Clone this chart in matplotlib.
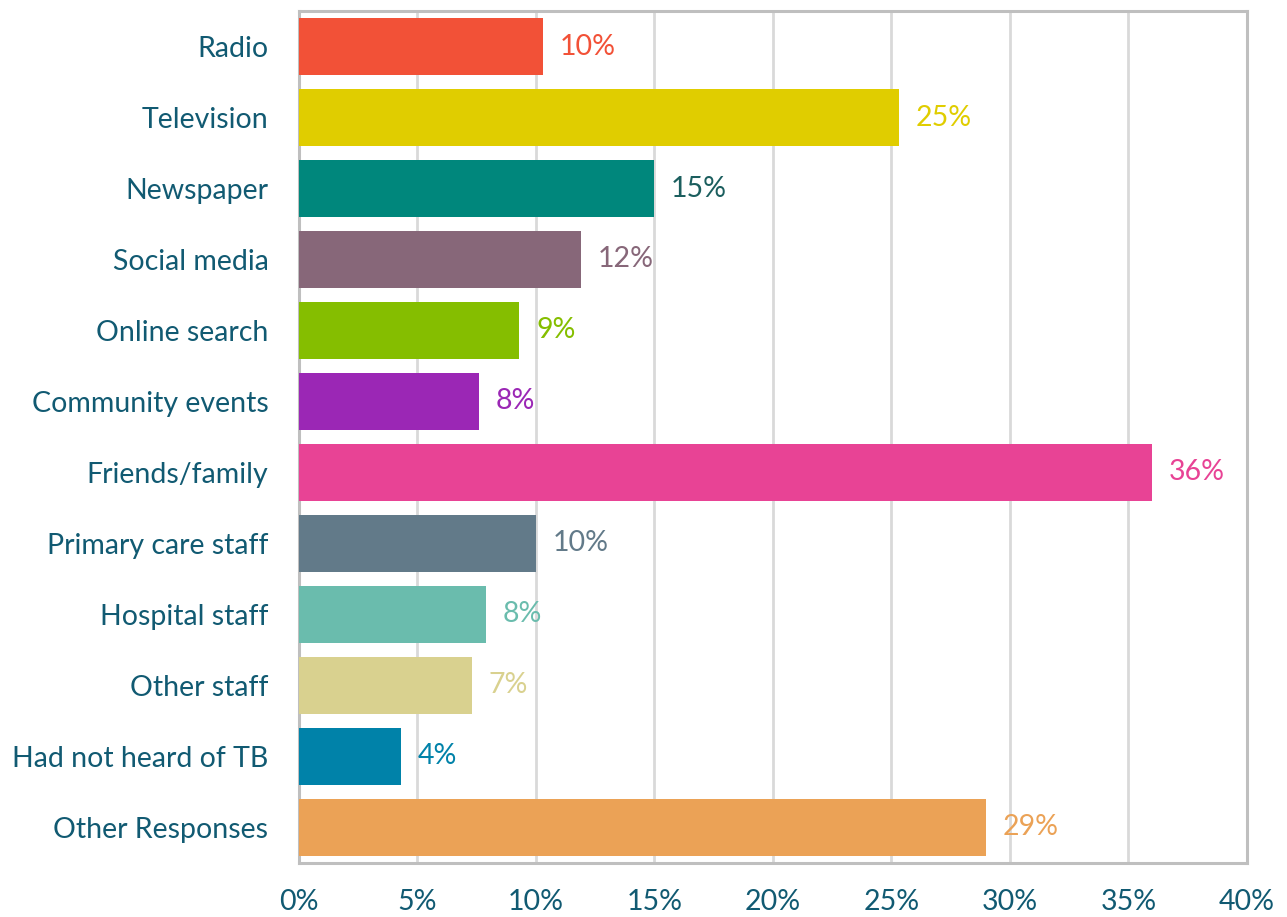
import matplotlib.pyplot as plt

categories = [
    "Radio", "Television", "Newspaper", "Social media", "Online search",
    "Community events", "Friends/family", "Primary care staff",
    "Hospital staff", "Other staff", "Had not heard of TB", "Other Responses",
]
shares = [10.3, 25.3, 15.0, 11.9, 9.3, 7.6, 36.0, 10.0, 7.9, 7.3, 4.3, 29.0]
bar_colors = [
    "#F25137", "#E0CD00", "#00877C", "#876779", "#85BE00", "#9B27B5",
    "#E84395", "#627A89", "#6ABCAD", "#D9D18F", "#0082A9", "#EBA256",
]
label_colors = list(bar_colors)
label_colors[2] = "#1B5E5E"
x_ticks = [0, 5, 10, 15, 20, 25, 30, 35, 40]

TEXT = "#115A72"
FS = 20.5
plt.rcParams["font.family"] = ["Lato", "DejaVu Sans"]

fig = plt.figure(figsize=(12.87, 9.17), dpi=100)
ax = fig.add_axes([0.2323, 0.0589, 0.7366, 0.9291])

ypos = range(len(categories))
ax.barh(ypos, shares, height=0.79, color=bar_colors, zorder=3)
for y, v, c in zip(ypos, shares, label_colors):
    ax.annotate(f"{v:.0f}%", (v, y), xytext=(12, 0), textcoords="offset points",
                ha="left", va="center", fontsize=FS, color=c, zorder=4)

ax.set_xlim(0, 40)
ax.set_ylim(len(categories) - 0.5, -0.5)
ax.set_yticks(list(ypos))
ax.set_yticklabels(categories, fontsize=FS, color=TEXT)
ax.set_xticks(x_ticks)
ax.set_xticklabels([f"{t}%" for t in x_ticks], fontsize=FS, color=TEXT)
ax.tick_params(axis="both", length=0)
ax.tick_params(axis="y", pad=22)
ax.tick_params(axis="x", pad=19)
ax.grid(axis="x", color="#D9D9D9", linewidth=2, zorder=0)
for s in ax.spines.values():
    s.set_color("#BFBFBF")
    s.set_linewidth(2.2)

fig.savefig("out.png", dpi=100, facecolor="white")
